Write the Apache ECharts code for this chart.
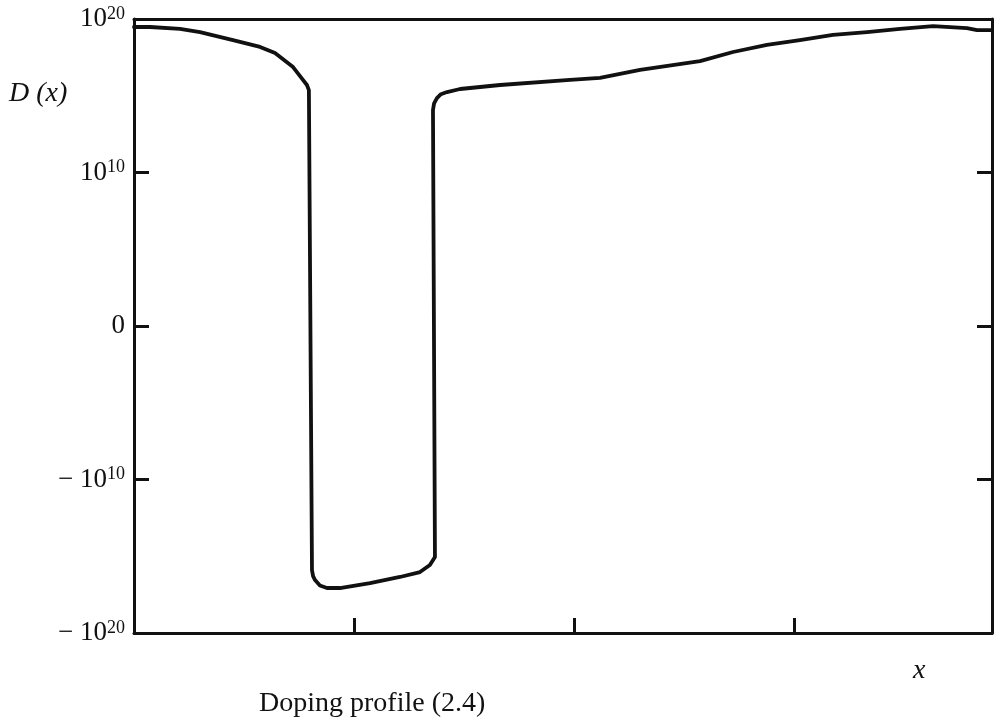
<!DOCTYPE html>
<html>
<head>
<meta charset="utf-8">
<title>Doping profile</title>
<script src="https://cdn.jsdelivr.net/npm/echarts@6/dist/echarts.min.js"></script>
<style>
  html, body { margin: 0; padding: 0; background: #fff; }
  #chart { width: 995px; height: 721px; }
</style>
</head>
<body>
<div id="chart"></div>
<script>
// Position along the device (arbitrary units)
const xPos = [0, 0.073, 0.209, 0.30, 0.45, 0.573, 0.641, 0.723, 0.768, 0.786, 0.795,
              0.809, 0.814, 0.823, 0.845, 0.877, 0.936, 1.073, 1.209, 1.30, 1.345, 1.368,
              1.359, 1.364, 1.377, 1.395, 1.423, 1.482, 1.664, 1.982, 2.118, 2.30, 2.573,
              2.723, 2.877, 3.027, 3.177, 3.332, 3.482, 3.632, 3.786, 3.832, 3.9];
// Signed decade of the doping D(x): sign(D) * log10|D|
const dopingDecade = [19.48, 19.48, 19.35, 19.15, 18.63, 18.18, 17.78, 16.87, 16.03, 15.7, 15.37,
                      -15.9, -16.3, -16.55, -16.9, -17.07, -17.07, -16.75, -16.35, -16.03, -15.57, -15.05,
                      14.07, 14.5, 14.85, 15.1, 15.24, 15.44, 15.70, 16.03, 16.16, 16.68, 17.26,
                      17.85, 18.31, 18.63, 18.96, 19.15, 19.35, 19.54, 19.41, 19.28, 19.28];
// Tick labels on the doping axis
const yTickValues = [-20, -10, 0, 10, 20];
const yTickLabels = {
  '20':  '{n|10}{s|20}',
  '10':  '{n|10}{s|10}',
  '0':   '{n|0}',
  '-10': '{n|− 10}{s|10}',
  '-20': '{n|− 10}{s|20}'
};

const ink = '#111';
const serif = '"Liberation Serif", "DejaVu Serif", serif';

const chart = echarts.init(document.getElementById('chart'));

const frameLine = { show: true, onZero: false, lineStyle: { color: ink, width: 3 } };

chart.setOption({
  animation: false,
  backgroundColor: '#fff',
  grid: { left: 134, right: 3, top: 19, bottom: 88, containLabel: false },
  xAxis: [
    {
      type: 'value', position: 'bottom', min: 0, max: 3.9, interval: 1,
      axisLine: frameLine,
      axisTick: { show: true, inside: true, length: 15, lineStyle: { color: ink, width: 3 } },
      axisLabel: { show: false },
      splitLine: { show: false }
    },
    {
      type: 'value', position: 'top', min: 0, max: 3.9, interval: 1,
      axisLine: frameLine,
      axisTick: { show: false },
      axisLabel: { show: false },
      splitLine: { show: false }
    }
  ],
  yAxis: [
    {
      type: 'value', position: 'left', min: yTickValues[0], max: yTickValues[yTickValues.length - 1], interval: 10,
      axisLine: frameLine,
      axisTick: { show: true, inside: true, length: 15, lineStyle: { color: ink, width: 3 } },
      axisLabel: {
        margin: 9,
        formatter: v => yTickLabels[String(v)] || '',
        rich: {
          n: { fontFamily: serif, fontSize: 27, color: ink, lineHeight: 28, verticalAlign: 'middle' },
          s: { fontFamily: serif, fontSize: 18, color: ink, lineHeight: 10, verticalAlign: 'top' }
        }
      },
      splitLine: { show: false }
    },
    {
      type: 'value', position: 'right', min: -20, max: 20, interval: 10,
      axisLine: frameLine,
      axisTick: { show: true, inside: true, length: 15, lineStyle: { color: ink, width: 3 } },
      axisLabel: { show: false },
      splitLine: { show: false }
    }
  ],
  graphic: [
    {
      type: 'text', left: 9, top: 80,
      style: { text: 'D (x)', font: 'italic 28px ' + serif, fill: ink }
    },
    {
      type: 'text', left: 913, top: 657,
      style: { text: 'x', font: 'italic 28px ' + serif, fill: ink }
    },
    {
      type: 'text', left: 259, top: 690,
      style: { text: 'Doping profile (2.4)', font: '28px ' + serif, fill: ink }
    }
  ],
  series: [
    {
      type: 'line',
      xAxisIndex: 0, yAxisIndex: 0,
      data: xPos.map((x, i) => [x, dopingDecade[i]]),
      showSymbol: false,
      smooth: false,
      lineStyle: { color: ink, width: 3.8, join: 'round', cap: 'round' }
    }
  ]
});
</script>
</body>
</html>
